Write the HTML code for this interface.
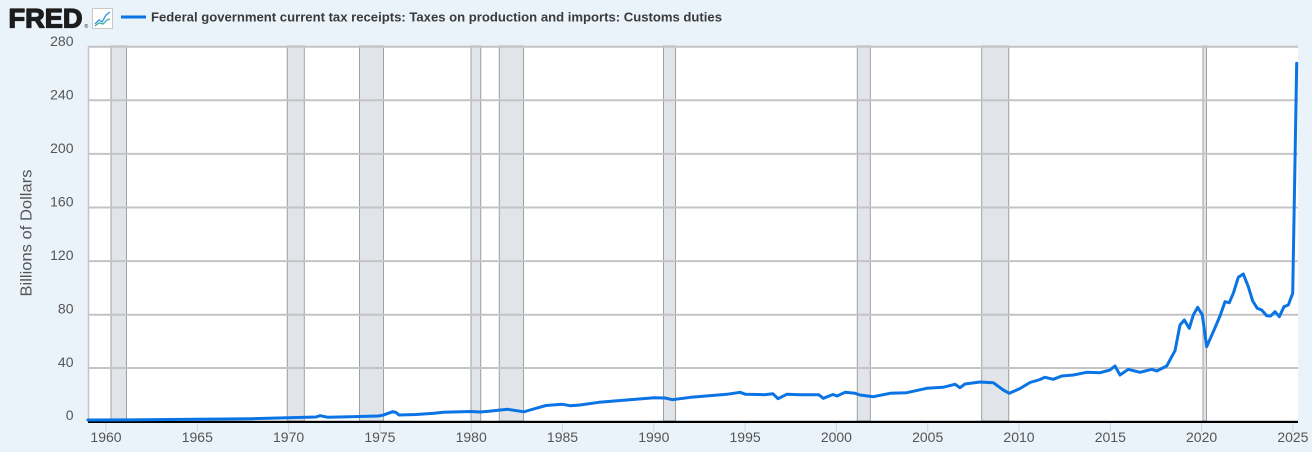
<!DOCTYPE html>
<html><head><meta charset="utf-8"><style>
html,body{margin:0;padding:0;background:#eaf2fa;}
svg{display:block;font-family:"Liberation Sans",sans-serif;}
</style></head><body>
<svg width="1312" height="452" viewBox="0 0 1312 452" xmlns="http://www.w3.org/2000/svg">
<rect x="0" y="0" width="1312" height="452" fill="#eaf2fa"/>
<!-- header -->
<text x="8.5" y="27.5" font-size="27" font-weight="bold" fill="#1c1c1c" stroke="#1c1c1c" stroke-width="1.3" stroke-linejoin="round" textLength="74" lengthAdjust="spacingAndGlyphs">FRED</text>
<text x="84.5" y="28" font-size="5" fill="#1c1c1c">®</text>
<rect x="92.5" y="8.5" width="20" height="20" fill="#fff" stroke="#c8c8c8"/>
<polyline points="95,24 99,20 102,22 106,15 110,12" fill="none" stroke="#3a8fe0" stroke-width="1.3"/>
<polyline points="95,26 99,23 103,24 107,20 110,19" fill="none" stroke="#3ab5a0" stroke-width="1.3"/>
<rect x="121" y="15.5" width="25" height="3" fill="#0a74e4"/>
<text x="151" y="21.5" font-size="12.5" font-weight="bold" fill="#3a3a3a" textLength="571" lengthAdjust="spacingAndGlyphs">Federal government current tax receipts: Taxes on production and imports: Customs duties</text>
<!-- plot area -->
<rect x="88" y="46" width="1210" height="376" fill="#fff"/>
<!-- recession bands -->
<g fill="#e1e5ea" stroke="#a0a0a0" stroke-width="1">
<rect x="111" y="46" width="15.5" height="375"/>
<rect x="287.3" y="46" width="17" height="375"/>
<rect x="359.5" y="46" width="24" height="375"/>
<rect x="471" y="46" width="9.7" height="375"/>
<rect x="499.3" y="46" width="24.2" height="375"/>
<rect x="663.5" y="46" width="12" height="375"/>
<rect x="857.3" y="46" width="13" height="375"/>
<rect x="981.7" y="46" width="27" height="375"/>
<rect x="1203" y="46" width="3.5" height="375"/>
</g>
<!-- gridlines -->
<g stroke="#c4c4c4" stroke-width="2">
<line x1="88" y1="46.7" x2="1298" y2="46.7"/>
<line x1="88" y1="100.3" x2="1298" y2="100.3"/>
<line x1="88" y1="153.9" x2="1298" y2="153.9"/>
<line x1="88" y1="207.5" x2="1298" y2="207.5"/>
<line x1="88" y1="261.1" x2="1298" y2="261.1"/>
<line x1="88" y1="314.7" x2="1298" y2="314.7"/>
<line x1="88" y1="368.0" x2="1298" y2="368.0"/>
</g>
<line x1="88.5" y1="46" x2="88.5" y2="422" stroke="#c4c4c4" stroke-width="1.5"/>
<!-- y labels -->
<g font-size="14" fill="#555" text-anchor="end">
<text x="73.5" y="46">280</text>
<text x="73.5" y="99.5">240</text>
<text x="73.5" y="153">200</text>
<text x="73.5" y="206.5">160</text>
<text x="73.5" y="260">120</text>
<text x="73.5" y="313.5">80</text>
<text x="73.5" y="367">40</text>
<text x="73.5" y="420">0</text>
</g>
<text transform="translate(31.5,233) rotate(-90)" font-size="16" fill="#555" text-anchor="middle" textLength="127" lengthAdjust="spacingAndGlyphs">Billions of Dollars</text>
<!-- x ticks -->
<g stroke="#ccd6eb" stroke-width="1">
<line x1="106" y1="423" x2="106" y2="432"/>
<line x1="197.3" y1="423" x2="197.3" y2="432"/>
<line x1="288.6" y1="423" x2="288.6" y2="432"/>
<line x1="379.9" y1="423" x2="379.9" y2="432"/>
<line x1="471.2" y1="423" x2="471.2" y2="432"/>
<line x1="562.5" y1="423" x2="562.5" y2="432"/>
<line x1="653.8" y1="423" x2="653.8" y2="432"/>
<line x1="745.1" y1="423" x2="745.1" y2="432"/>
<line x1="836.4" y1="423" x2="836.4" y2="432"/>
<line x1="927.7" y1="423" x2="927.7" y2="432"/>
<line x1="1019" y1="423" x2="1019" y2="432"/>
<line x1="1110.3" y1="423" x2="1110.3" y2="432"/>
<line x1="1201.6" y1="423" x2="1201.6" y2="432"/>
<line x1="1292.9" y1="423" x2="1292.9" y2="432"/>
</g>
<g font-size="14" fill="#555" text-anchor="middle">
<text x="106" y="442">1960</text>
<text x="197.3" y="442">1965</text>
<text x="288.6" y="442">1970</text>
<text x="379.9" y="442">1975</text>
<text x="471.2" y="442">1980</text>
<text x="562.5" y="442">1985</text>
<text x="653.8" y="442">1990</text>
<text x="745.1" y="442">1995</text>
<text x="836.4" y="442">2000</text>
<text x="927.7" y="442">2005</text>
<text x="1019" y="442">2010</text>
<text x="1110.3" y="442">2015</text>
<text x="1201.6" y="442">2020</text>
<text x="1292.9" y="442">2025</text>
</g>
<!-- axis -->
<rect x="88" y="420.8" width="1210" height="2.2" fill="#000"/>
<!-- series -->
<polyline fill="none" stroke="#0a74e4" stroke-width="3" stroke-linejoin="round" stroke-linecap="round" points="
88,420 142.5,419.8 197.3,419.3 252,418.7 288.6,417.7 316,417 320,415.7 328,417.3 350,416.8 378,416 383,415.2 392.7,411.7 396,412.5 399,415
416,414.5 434.5,413.3 443,412.2 471,411.5 480,412 489,411.3 507.5,409.3 524,411.8 530,410 546,405.5 562.5,404.3 570,405.7 580,405
599,402.3 617.5,400.7 636,399.3 654,397.7 665,398 672.5,399.7 690.8,397.3 709,395.7 727,394.3 740,392.3 745.6,394.3 764,394.7 773,393.8 778,398.7
786.7,394.3 800.5,394.7 818.7,394.7 823.3,398.3 833,394.5 837,396 845,392.3 855,393.3 860,395 873.3,396.7 890,393.3 906.7,392.7 926.7,388.3
943,387.3 955,384.3 960,387.7 965,384 980,382 993.3,382.7 1003.3,390 1009.3,393.3 1020,388.5 1030,382.5 1040,379.5 1045,377.3 1053.3,379.3 1061.7,376
1073.3,375 1086.7,372.3 1100,372.7 1110,370 1115,366 1120,375 1128.3,369.3 1140,372.3 1151.7,369.3 1156.7,371 1166.7,366 1175,350.7 1180,325
1184.3,320 1189.3,328.3 1193.3,315 1197.7,307.3 1202.3,315 1206.7,346.7 1213.3,331.7 1220,316 1225,301.7 1229.3,302.7 1233.3,293.3 1238.3,277.3
1243.3,274 1248.3,286.7 1252.7,301 1257.3,308.3 1261.7,310 1266.7,315.7 1270.7,316 1275,311.7 1279.3,316.7 1284,306.7 1288.3,305 1292.7,293.3 1296.7,63.3"/>
</svg>
</body></html>
